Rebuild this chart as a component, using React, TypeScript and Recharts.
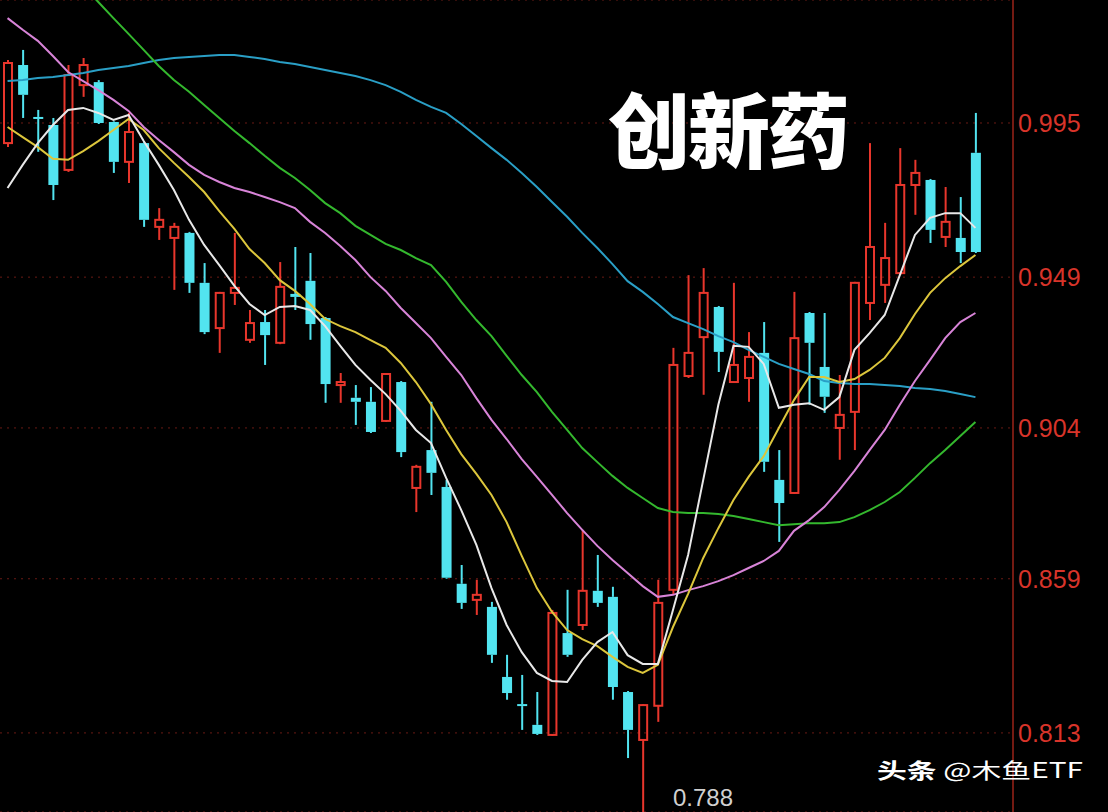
import { Bar, CartesianGrid, ComposedChart, Line, XAxis, YAxis } from 'recharts'

// daily candles
const OPEN = [
  0.989, 1.0123, 0.9968, 0.9944, 0.981, 1.0063, 1.0072, 0.9953, 0.9834, 0.989,
  0.964, 0.9607, 0.9622, 0.9473, 0.9338, 0.9443, 0.9303, 0.9356, 0.9294, 0.944,
  0.9479, 0.9368, 0.9168, 0.913, 0.9118, 0.9061, 0.9177, 0.8861, 0.8974, 0.8864,
  0.8575, 0.8527, 0.8506, 0.8297, 0.8216, 0.8154, 0.8124, 0.8428, 0.8452, 0.8554,
  0.8536, 0.8252, 0.8109, 0.8211, 0.8557, 0.9195, 0.9311, 0.9401, 0.9177, 0.9189,
  0.9264, 0.8885, 0.8846, 0.9383, 0.9222, 0.904, 0.9088, 0.9413, 0.9467, 0.9502,
  0.9765, 0.978, 0.961, 0.9607, 0.9861,
]
const HIGH = [
  1.0138, 1.0168, 0.9989, 0.9965, 1.0123, 1.0144, 1.0078, 0.9955, 0.998, 0.9893,
  0.9696, 0.9652, 0.9625, 0.9532, 0.9446, 0.9622, 0.9392, 0.9392, 0.9535, 0.958,
  0.9562, 0.9371, 0.9204, 0.9168, 0.9162, 0.9204, 0.918, 0.893, 0.9118, 0.8885,
  0.8631, 0.8587, 0.8521, 0.8363, 0.8303, 0.8252, 0.8497, 0.8557, 0.8736, 0.8661,
  0.8566, 0.8255, 0.8216, 0.8587, 0.9279, 0.9496, 0.9517, 0.9404, 0.9473, 0.9326,
  0.9356, 0.8974, 0.9446, 0.9386, 0.9383, 0.9198, 0.9476, 0.989, 0.9652, 0.9875,
  0.984, 0.9783, 0.9759, 0.9729, 0.998,
]
const LOW = [
  0.9878, 0.9965, 0.9864, 0.972, 0.9804, 1.0028, 0.9947, 0.9801, 0.9771, 0.964,
  0.9601, 0.9452, 0.9443, 0.932, 0.9264, 0.9407, 0.9294, 0.9228, 0.929, 0.9392,
  0.9303, 0.9115, 0.9115, 0.9049, 0.9025, 0.9058, 0.8953, 0.8789, 0.884, 0.859,
  0.85, 0.8482, 0.8339, 0.8229, 0.8139, 0.8124, 0.8121, 0.8357, 0.8437, 0.8506,
  0.8229, 0.8055, 0.788, 0.8163, 0.8542, 0.9189, 0.9139, 0.9207, 0.9177, 0.9118,
  0.8909, 0.87, 0.8843, 0.9109, 0.9085, 0.8945, 0.8974, 0.9362, 0.9413, 0.9496,
  0.9676, 0.9592, 0.958, 0.9532, 0.9562,
]
const CLOSE = [
  1.0129, 1.0034, 0.9962, 0.9765, 1.0093, 1.0123, 0.995, 0.9834, 0.9923, 0.9661,
  0.9661, 0.964, 0.9473, 0.9326, 0.9443, 0.9458, 0.9353, 0.9317, 0.9461, 0.9431,
  0.935, 0.9171, 0.9177, 0.9118, 0.9028, 0.9201, 0.8968, 0.8924, 0.8906, 0.8593,
  0.8518, 0.8542, 0.8363, 0.8249, 0.8211, 0.8127, 0.8488, 0.8363, 0.8554, 0.8518,
  0.8267, 0.8139, 0.8213, 0.8518, 0.9228, 0.9264, 0.9443, 0.9267, 0.9228, 0.9252,
  0.8939, 0.8816, 0.9308, 0.9294, 0.9133, 0.9079, 0.9473, 0.958, 0.9547, 0.9765,
  0.9801, 0.9631, 0.9655, 0.9565, 0.9565,
]

// moving averages
const MA5 = [
  0.9756, 0.9825, 0.989, 0.9944, 0.9989, 0.9995, 0.998, 0.9959, 0.9974, 0.9896,
  0.9825, 0.975, 0.9661, 0.9586, 0.9526, 0.9464, 0.941, 0.9377, 0.9401, 0.9404,
  0.9392, 0.9344, 0.9285, 0.9228, 0.9183, 0.9141, 0.9091, 0.9034, 0.8995, 0.8891,
  0.8795, 0.8691, 0.8562, 0.8452, 0.8371, 0.8309, 0.8285, 0.8282, 0.8348, 0.8401,
  0.8431, 0.8362, 0.8336, 0.8336, 0.8497, 0.8661, 0.8885, 0.9109, 0.9285, 0.9282,
  0.9231, 0.91, 0.9109, 0.9114, 0.9094, 0.9132, 0.9273, 0.9323, 0.9377, 0.9496,
  0.9616, 0.9667, 0.9681, 0.9681, 0.9637,
]
const MA10 = [
  0.9938, 0.9908, 0.9878, 0.9843, 0.984, 0.9866, 0.9896, 0.9929, 0.9962, 0.9929,
  0.9875, 0.9831, 0.9789, 0.9744, 0.9687, 0.9634, 0.9574, 0.9532, 0.9481, 0.9449,
  0.941, 0.9365, 0.9344, 0.9326, 0.9302, 0.9279, 0.9234, 0.9177, 0.9111, 0.9034,
  0.8962, 0.8903, 0.884, 0.8759, 0.8658, 0.8562, 0.8491, 0.8437, 0.841, 0.8389,
  0.8357, 0.8327, 0.8309, 0.8333, 0.8446, 0.8545, 0.8652, 0.8741, 0.8825, 0.8894,
  0.8956, 0.904, 0.9123, 0.9192, 0.9192, 0.9177, 0.9186, 0.9213, 0.9249, 0.9308,
  0.938, 0.9443, 0.9487, 0.9523, 0.9556,
]
const MA20 = [
  1.0263, 1.0228, 1.0195, 1.015, 1.0102, 1.0075, 1.0048, 1.0019, 0.9986, 0.9938,
  0.9899, 0.9863, 0.9825, 0.9795, 0.9774, 0.9756, 0.9744, 0.9729, 0.9714, 0.9696,
  0.9655, 0.9622, 0.9583, 0.9541, 0.949, 0.9449, 0.9398, 0.9353, 0.9308, 0.9252,
  0.9198, 0.9129, 0.9064, 0.9007, 0.8947, 0.8894, 0.884, 0.8786, 0.8736, 0.8688,
  0.8646, 0.8607, 0.8568, 0.8536, 0.8542, 0.8556, 0.8568, 0.8583, 0.8601, 0.8622,
  0.8643, 0.8673, 0.8733, 0.8765, 0.8804, 0.8855, 0.8912, 0.8974, 0.9034, 0.9109,
  0.918, 0.9243, 0.9308, 0.9356, 0.9383,
]
const MA60 = [
  null, null, null, null, null, 1.0359, 1.0311, 1.0263, 1.0216, 1.0168,
  1.012, 1.0078, 1.0043, 1.0004, 0.9965, 0.9926, 0.989, 0.9852, 0.9816, 0.9786,
  0.975, 0.9711, 0.9681, 0.9643, 0.9616, 0.9589, 0.9571, 0.9547, 0.9526, 0.9476,
  0.9416, 0.9362, 0.9314, 0.9255, 0.9198, 0.9147, 0.9088, 0.9034, 0.898, 0.8938,
  0.8897, 0.8861, 0.8831, 0.8801, 0.8789, 0.8786, 0.8786, 0.8783, 0.8777, 0.8768,
  0.8759, 0.875, 0.8753, 0.8756, 0.8756, 0.8759, 0.8774, 0.8795, 0.8819, 0.8849,
  0.8891, 0.8935, 0.8974, 0.9016, 0.9058,
]
const MA120 = [
  1.0075, 1.0078, 1.0084, 1.0087, 1.0093, 1.0099, 1.0108, 1.0114, 1.012, 1.0129,
  1.0138, 1.0144, 1.0147, 1.015, 1.0153, 1.0153, 1.0147, 1.0141, 1.0132, 1.0126,
  1.0117, 1.0108, 1.0099, 1.009, 1.0078, 1.0063, 1.0043, 1.0019, 0.9998, 0.998,
  0.9947, 0.9911, 0.9875, 0.984, 0.9801, 0.9759, 0.9714, 0.967, 0.9622, 0.9577,
  0.9529, 0.9478, 0.9446, 0.941, 0.9371, 0.9353, 0.9335, 0.9314, 0.9296, 0.9273,
  0.9252, 0.9231, 0.9216, 0.9201, 0.918, 0.9174, 0.9171, 0.9171, 0.9168, 0.9165,
  0.9159, 0.9156, 0.915, 0.9141, 0.9132,
]

const PRICE_TICKS = [0.813, 0.859, 0.904, 0.949, 0.995]
const Y_DOMAIN = [0.7894, 1.0317]
const LOW_MARK = '0.788'

const UP = '#e8362c'
const DOWN = '#52e4f0'

const data = OPEN.map((open, i) => ({
  i,
  open,
  high: HIGH[i],
  low: LOW[i],
  close: CLOSE[i],
  ma5: MA5[i],
  ma10: MA10[i],
  ma20: MA20[i],
  ma60: MA60[i],
  ma120: MA120[i],
}))

function Candle(props: any) {
  const { x, y, width, height, payload } = props
  if (!payload || height == null) return null
  const top = Math.min(y, y + height)
  const h = Math.abs(height)
  const span = payload.high - payload.low || 1
  const toY = (v: number) => top + ((payload.high - v) / span) * h
  const up = payload.close >= payload.open
  const color = up ? UP : DOWN
  const cx = x + width / 2
  const yo = toY(payload.open)
  const yc = toY(payload.close)
  const bodyTop = Math.min(yo, yc)
  const bodyH = Math.max(Math.abs(yo - yc), 2)
  return (
    <g>
      <line x1={cx} x2={cx} y1={top} y2={bodyTop} stroke={color} strokeWidth={2} />
      <line x1={cx} x2={cx} y1={bodyTop + bodyH} y2={top + h} stroke={color} strokeWidth={2} />
      {up ? (
        <rect x={x + 1} y={bodyTop} width={width - 2} height={bodyH} fill="none" stroke={color} strokeWidth={2} />
      ) : (
        <rect x={x} y={bodyTop} width={width} height={bodyH} fill={color} />
      )}
    </g>
  )
}

const lineProps = { type: 'linear' as const, dot: false, activeDot: false, strokeWidth: 2, isAnimationActive: false }

export default function App() {
  return (
    <div style={{ position: 'relative', width: 1108, height: 812, background: '#000', overflow: 'hidden' }}>
      <style>{'body{margin:0;background:#000}'}</style>
      <ComposedChart width={1108} height={812} data={data} margin={{ top: 0, right: 0, bottom: 0, left: 0 }}>
        <CartesianGrid vertical={false} stroke="#6a1a14" strokeDasharray="2 5" />
        <XAxis dataKey="i" hide padding={{ left: 0, right: 30 }} />
        <YAxis
          orientation="right"
          width={95}
          domain={Y_DOMAIN}
          allowDataOverflow
          ticks={PRICE_TICKS}
          tickFormatter={(v) => v.toFixed(3)}
          tickLine={false}
          tickSize={3}
          tickMargin={2}
          axisLine={{ stroke: '#741a12', strokeWidth: 2 }}
          tick={{ fill: '#d8342a', fontSize: 25, fontFamily: '"Liberation Sans", Arial, sans-serif' }}
        />
        <Bar dataKey={(d: any) => [d.low, d.high]} barSize={10} shape={Candle} isAnimationActive={false} />
        <Line dataKey="ma120" stroke="#2a9fc6" {...lineProps} />
        <Line dataKey="ma60" stroke="#34b82e" {...lineProps} />
        <Line dataKey="ma20" stroke="#d884d8" {...lineProps} />
        <Line dataKey="ma10" stroke="#dcc63c" {...lineProps} />
        <Line dataKey="ma5" stroke="#e8e8e8" {...lineProps} />
      </ComposedChart>
      <div
        style={{
          position: 'absolute',
          left: 608,
          top: 86,
          color: '#fff',
          fontSize: 82,
          fontWeight: 900,
          lineHeight: 1,
          letterSpacing: -2,
          fontFamily: '"Noto Sans CJK SC", sans-serif',
        }}
      >
        创新药
      </div>
      <div
        style={{
          position: 'absolute',
          left: 673,
          top: 786,
          color: '#d0d0d0',
          fontSize: 24,
          lineHeight: 1,
          fontFamily: '"Liberation Sans", Arial, sans-serif',
        }}
      >
        {LOW_MARK}
      </div>
      <div
        style={{
          position: 'absolute',
          left: 877,
          top: 759,
          color: '#fff',
          fontSize: 21,
          lineHeight: 1,
          whiteSpace: 'nowrap',
          transform: 'scaleX(1.42)',
          transformOrigin: 'left top',
          fontFamily: '"Noto Sans CJK SC", sans-serif',
        }}
      >
        <span style={{ fontWeight: 700 }}>头条</span> @木鱼ETF
      </div>
    </div>
  )
}
